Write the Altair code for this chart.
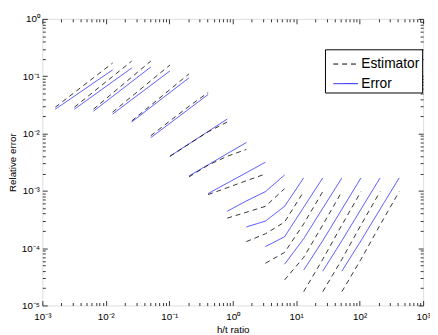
import json
import math
import altair as alt
import pandas as pd

# h/t ratios sampled (each segment uses 4 consecutive ratios)
ratios = [0.0016, 0.0032, 0.0064, 0.0128, 0.0256, 0.0512, 0.1024, 0.2048, 0.4096,
          0.8192, 1.6384, 3.2768, 6.5536, 13.1072, 26.2144, 52.4288, 104.8576,
          209.7152, 419.4304]
segment_start = [0, 1, 2, 3, 4, 5, 6, 7, 8, 9, 10, 11, 12, 13, 14, 15]

error_vals = [
    [0.0266, 0.0449, 0.0762, 0.1287],
    [0.0266, 0.0462, 0.0802, 0.1392],
    [0.0246, 0.0444, 0.0802, 0.1449],
    [0.0218, 0.0390, 0.0693, 0.1237],
    [0.0159, 0.0288, 0.0520, 0.0939],
    [0.00848, 0.0151, 0.0269, 0.0480],
    [0.00401, 0.00661, 0.01086, 0.0179],
    [0.00182, 0.00284, 0.00446, 0.00696],
    [0.000896, 0.001366, 0.00207, 0.00316],
    [0.000440, 0.000666, 0.000969, 0.00189],
    [0.000234, 0.000297, 0.000536, 0.00168],
    [0.0001065, 0.000158, 0.000516, 0.00168],
    [5.24e-5, 0.000146, 0.000496, 0.00168],
    [4.13e-5, 0.000135, 0.000477, 0.00168],
    [3.97e-5, 0.000135, 0.000477, 0.00168],
    [3.97e-5, 0.000135, 0.000477, 0.00168],
]
estimator_vals = [
    [0.0288, 0.0520, 0.0939, 0.1697],
    [0.0288, 0.0534, 0.0988, 0.1836],
    [0.0266, 0.0506, 0.0965, 0.1836],
    [0.0236, 0.0444, 0.0834, 0.1567],
    [0.0166, 0.0311, 0.0585, 0.1100],
    [0.00917, 0.0166, 0.0299, 0.0520],
    [0.00401, 0.00656, 0.01073, 0.0159],
    [0.00175, 0.00281, 0.00401, 0.00528],
    [0.000861, 0.001134, 0.00150, 0.00197],
    [0.000334, 0.000423, 0.000536, 0.001091],
    [0.000130, 0.000178, 0.000285, 0.000969],
    [5.45e-5, 8.41e-5, 0.000264, 0.000969],
    [2.79e-5, 6.90e-5, 0.000254, 0.000969],
    [1.74e-5, 6.38e-5, 0.000254, 0.000969],
    [1.74e-5, 6.38e-5, 0.000254, 0.000969],
    [1.74e-5, 6.38e-5, 0.000254, 0.000969],
]

series_names = ["Estimator", "Error"]
series_colors = ["#000000", "#1a1aff"]

x_major = [0.001, 0.01, 0.1, 1, 10, 100, 1000]
x_major_labels = ["10⁻³", "10⁻²", "10⁻¹", "10⁰", "10¹", "10²", "10³"]
x_minor = [m * p for p in [0.001, 0.01, 0.1, 1, 10, 100] for m in range(2, 10)]
y_major = [1e-5, 1e-4, 1e-3, 1e-2, 1e-1, 1]
y_major_labels = ["10⁻⁵", "10⁻⁴", "10⁻³", "10⁻²", "10⁻¹", "10⁰"]
y_minor = [m * p for p in [1e-5, 1e-4, 1e-3, 1e-2, 1e-1] for m in range(2, 10)]

rows = []
for k, s in enumerate(segment_start):
    for j in range(4):
        rows.append({"seg": k, "order": j, "series": "Error",
                     "ratio": ratios[s + j], "value": error_vals[k][j]})
        rows.append({"seg": k, "order": j, "series": "Estimator",
                     "ratio": ratios[s + j], "value": estimator_vals[k][j]})
df = pd.DataFrame(rows)

FONT = "Liberation Sans"
xs = alt.Scale(type="log", domain=[1e-3, 1e3], nice=False)
ys = alt.Scale(type="log", domain=[1e-5, 1], nice=False)


def label_expr(vals, labels):
    first = int(round(math.log10(vals[0])))
    return json.dumps(labels) + "[round(log(datum.value)/LN10) - (" + str(first) + ")]"


legend = alt.Legend(orient="none", legendX=288, legendY=31, title=None,
                    symbolType="stroke", symbolSize=625, symbolStrokeWidth=1,
                    labelFontSize=14, labelFont=FONT, labelColor="black",
                    fillColor="white", strokeColor="black", padding=2,
                    rowPadding=-3, labelOffset=3, symbolOffset=6, cornerRadius=0)
color = alt.Color("series:N", scale=alt.Scale(domain=series_names, range=series_colors),
                  legend=legend)
dash = alt.StrokeDash("series:N", scale=alt.Scale(domain=series_names, range=[[5, 4], [1, 0]]),
                      legend=legend)

x_label_axis = alt.Axis(orient="bottom", values=x_major, labelExpr=label_expr(x_major, x_major_labels),
                        ticks=False, tickSize=0, domain=False, grid=False, title="h/t ratio",
                        labelFont=FONT, labelFontSize=10, labelColor="black", labelPadding=6,
                        labelFlush=False, labelOverlap=False, titleFont=FONT, titleFontSize=10,
                        titleFontWeight="normal", titleColor="black", titlePadding=4)
y_label_axis = alt.Axis(orient="left", values=y_major, labelExpr=label_expr(y_major, y_major_labels),
                        ticks=False, tickSize=0, domain=False, grid=False, title="Relative error",
                        labelFont=FONT, labelFontSize=10, labelColor="black", labelPadding=3,
                        labelFlush=False, labelOverlap=False, titleFont=FONT, titleFontSize=10,
                        titleFontWeight="normal", titleColor="black", titlePadding=4)

err_layer = alt.Chart(df).transform_filter(alt.datum.series == "Error").mark_line(strokeWidth=0.8).encode(
    x=alt.X("ratio:Q", scale=xs, axis=x_label_axis),
    y=alt.Y("value:Q", scale=ys, axis=y_label_axis),
    color=color, strokeDash=dash, detail="seg:N", order="order:Q")

est_layer = alt.Chart(df).transform_filter(alt.datum.series == "Estimator").mark_line(strokeWidth=0.8).encode(
    x=alt.X("ratio:Q", scale=xs, axis=None),
    y=alt.Y("value:Q", scale=ys, axis=None),
    color=color, strokeDash=dash, detail="seg:N", order="order:Q")


def tick_axis(orient, values, size):
    return alt.Axis(orient=orient, values=values, tickSize=size, offset=-size, labels=False,
                    domain=False, grid=False, title=None, ticks=True, tickColor="black",
                    tickWidth=0.8)


def tick_layer(xo, yo, xv, yv, size):
    return alt.Chart(df).mark_point(opacity=0).encode(
        x=alt.X("ratio:Q", scale=xs, axis=tick_axis(xo, xv, size)),
        y=alt.Y("value:Q", scale=ys, axis=tick_axis(yo, yv, size)))


layers = [
    err_layer, est_layer,
    tick_layer("bottom", "left", x_major, y_major, 5),
    tick_layer("bottom", "left", x_minor, y_minor, 3),
    tick_layer("top", "right", x_major, y_major, 5),
    tick_layer("top", "right", x_minor, y_minor, 3),
]

chart = alt.layer(*layers).resolve_axis(x="independent", y="independent").properties(
    width=388, height=292,
    autosize=alt.AutoSizeParams(type="none"),
    padding={"left": 35, "top": 8, "right": 7, "bottom": 27},
).configure_view(stroke="black", strokeWidth=1).configure(background="white")

chart.save("out.html", embed_options={"renderer": "svg", "actions": False})
